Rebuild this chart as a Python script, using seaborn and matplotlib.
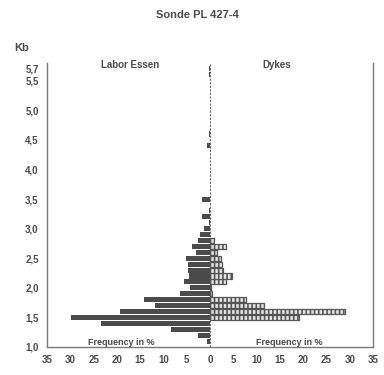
import numpy as np
import pandas as pd
import matplotlib
matplotlib.use("Agg")
import matplotlib.pyplot as plt
import seaborn as sns

# Kb classes (bin centres)
kb = [1.1, 1.2, 1.3, 1.4, 1.5, 1.6, 1.7, 1.8, 1.9, 2.0,
      2.1, 2.2, 2.3, 2.4, 2.5, 2.6, 2.7, 2.8, 2.9, 3.0,
      3.1, 3.2, 3.3, 3.4, 3.5, 4.4, 4.6, 5.6, 5.7]
# Frequency in % - Labor Essen (left)
labor_essen = [0.7, 2.6, 8.3, 23.4, 29.9, 19.4, 11.9, 14.2, 6.5, 4.2,
               5.6, 4.6, 4.8, 4.8, 5.2, 2.9, 3.9, 2.6, 2.1, 1.2,
               0.3, 1.7, 0.2, 0.0, 1.7, 0.6, 0.3, 0.3, 0.3]
# Frequency in % - Dykes (right)
dykes = [0.0, 0.0, 0.0, 0.0, 19.1, 29.0, 11.7, 7.7, 0.5, 0.3,
         3.4, 4.7, 2.8, 2.5, 2.3, 1.6, 3.4, 0.8, 0.0, 0.0,
         0.0, 0.0, 0.0, 0.0, 0.0, 0.0, 0.0, 0.0, 0.0]

x_ticks = [-35, -30, -25, -20, -15, -10, -5, 0, 5, 10, 15, 20, 25, 30, 35]
y_ticks = [1.0, 1.5, 2.0, 2.5, 3.0, 3.5, 4.0, 4.5, 5.0, 5.5, 5.7]
y_labels = ["1,0", "1,5", "2,0", "2,5", "3,0", "3,5", "4,0", "4,5", "5,0", "5,5", "5,7"]

sns.set_style("white")
plt.rcParams["font.family"] = ["Liberation Sans", "DejaVu Sans"]
plt.rcParams["hatch.linewidth"] = 1.2

TXT = "#4a4a4a"

fig = plt.figure(figsize=(3.84, 3.75), dpi=100)
ax = fig.add_axes([47 / 384, 1 - 347 / 375, (373 - 47) / 384, (347 - 63) / 375])

df = pd.DataFrame({
    "kb": np.round(kb, 2),
    "left": [-v for v in labor_essen],
    "right": dykes,
})

ax.axvline(0, color="#666666", lw=0.8, ls=(0, (2.0, 1.2)), zorder=1)

sns.barplot(data=df, x="left", y="kb", orient="h", native_scale=True,
            width=0.85, color="#4b4b4b", saturation=1, errorbar=None,
            linewidth=0, ax=ax, zorder=2)
sns.barplot(data=df, x="right", y="kb", orient="h", native_scale=True,
            width=0.85, color="#e6e6e6", saturation=1, errorbar=None,
            linewidth=0.9, edgecolor="#555555", hatch="||||", ax=ax, zorder=2)
# remove outlines of empty bars
for p in ax.containers[1]:
    if p.get_width() == 0:
        p.set_visible(False)

ax.set_xlim(-35, 35)
ax.set_ylim(1.0, 5.8)
ax.set_xticks(x_ticks)
ax.set_xticklabels([str(abs(t)) for t in x_ticks])
ax.set_yticks(y_ticks)
ax.set_yticklabels(y_labels)
ax.set_xlabel("")
ax.set_ylabel("")
ax.tick_params(length=0, labelsize=7, labelcolor=TXT, pad=6)
for lab in ax.get_xticklabels() + ax.get_yticklabels():
    lab.set_fontweight("bold")

ax.spines["top"].set_visible(False)
for s in ["left", "right", "bottom"]:
    ax.spines[s].set_color("#7a7a7a")
    ax.spines[s].set_linewidth(1.0)

ax.text(-17.2, 5.77, "Labor Essen", ha="center", va="center", fontsize=7,
        fontweight="bold", color=TXT)
ax.text(14.4, 5.77, "Dykes", ha="center", va="center", fontsize=7,
        fontweight="bold", color=TXT)
ax.text(-19.1, 1.07, "Frequency in %", ha="center", va="center", fontsize=6.5,
        fontweight="bold", color=TXT)
ax.text(17.0, 1.07, "Frequency in %", ha="center", va="center", fontsize=6.5,
        fontweight="bold", color=TXT)

fig.text(197 / 384, 1 - 15 / 375, "Sonde PL 427-4", ha="center", va="center",
         fontsize=8, fontweight="bold", color=TXT)
fig.text(22 / 384, 1 - 48 / 375, "Kb", ha="center", va="center",
         fontsize=8, fontweight="bold", color=TXT)

fig.savefig("out.png", dpi=100)
